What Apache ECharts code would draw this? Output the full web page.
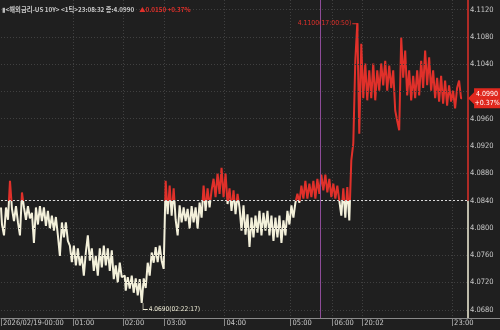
<!DOCTYPE html>
<html><head><meta charset="utf-8">
<script src="https://cdn.jsdelivr.net/npm/echarts@6/dist/echarts.min.js"></script>
<style>html,body{margin:0;padding:0;background:#1f1f1f}#c{width:500px;height:330px}</style>
</head><body><div id="c"></div>
<script>
// tick labels on the time (tick-index) axis
const tickIdx = [0, 36, 61, 82, 112, 145, 166, 181, 226];
const tickLabels = ['2026/02/19-00:00', '01:00', '02:00', '03:00', '04:00', '05:00', '06:00', '20:02', '23:00'];
// y-axis labels
const yTicks = [4.0680, 4.0720, 4.0760, 4.0800, 4.0840, 4.0880, 4.0920, 4.0960, 4.1000, 4.1040, 4.1080, 4.1120];
const baseValue = 4.0840;
const closeValue = 4.0990;
const changeText = '▲0.0150 +0.37%';
const pctText = '+0.37%';
const maxTime = '17:00:50';
const minTime = '02:22:17';
const catCount = 251;
const dividerIdx = 159.5;
const endIdx = 234;
// tick values
const values = [
4.0830,4.0805,4.0789,4.0830,4.0812,4.0869,4.0828,4.0810,4.0832,4.0808,
4.0789,4.0852,4.0830,4.0812,4.0832,4.0814,4.0822,4.0778,4.0830,4.0805,
4.0832,4.0810,4.0830,4.0803,4.0825,4.0799,4.0818,4.0796,4.0816,4.0789,
4.0759,4.0808,4.0786,4.0808,4.0781,4.0774,4.0750,4.0774,4.0745,4.0770,
4.0745,4.0759,4.0730,4.0764,4.0789,4.0752,4.0770,4.0737,4.0759,4.0730,
4.0770,4.0742,4.0774,4.0745,4.0770,4.0737,4.0767,4.0725,4.0745,4.0720,
4.0749,4.0728,4.0730,4.0708,4.0728,4.0711,4.0730,4.0705,4.0726,4.0701,
4.0725,4.0690,4.0726,4.0712,4.0749,4.0730,4.0764,4.0749,4.0772,4.0750,
4.0774,4.0752,4.0740,4.0869,4.0820,4.0862,4.0818,4.0858,4.0812,4.0789,
4.0833,4.0808,4.0830,4.0810,4.0828,4.0799,4.0832,4.0808,4.0830,4.0799,
4.0837,4.0815,4.0862,4.0825,4.0858,4.0830,4.0855,4.0872,4.0845,4.0880,
4.0850,4.0888,4.0845,4.0880,4.0835,4.0858,4.0825,4.0855,4.0820,4.0850,
4.0830,4.0796,4.0833,4.0790,4.0820,4.0772,4.0815,4.0786,4.0818,4.0793,
4.0825,4.0789,4.0822,4.0796,4.0825,4.0789,4.0818,4.0781,4.0815,4.0786,
4.0818,4.0778,4.0811,4.0789,4.0825,4.0805,4.0833,4.0815,4.0837,4.0850,
4.0837,4.0862,4.0843,4.0869,4.0843,4.0865,4.0845,4.0869,4.0843,4.0872,
4.0850,4.0878,4.0855,4.0878,4.0852,4.0872,4.0845,4.0865,4.0843,4.0862,
4.0840,4.0818,4.0858,4.0815,4.0860,4.0811,4.0899,4.0924,4.1045,4.1100,
4.0938,4.1070,4.0990,4.1041,4.0987,4.1031,4.0990,4.1041,4.0987,4.1031,
4.1001,4.1041,4.1009,4.1045,4.1001,4.1038,4.1005,4.1031,4.0972,4.0957,
4.0943,4.1079,4.1020,4.1060,4.0994,4.1031,4.0987,4.1023,4.0990,4.1031,
4.0994,4.1045,4.1005,4.1060,4.1009,4.1050,4.1001,4.1031,4.0990,4.1020,
4.0985,4.1023,4.0982,4.1016,4.0979,4.1009,4.0985,4.1001,4.0975,4.1005,
4.1016,4.0990
];

const RED = '#e0302a', CREAM = '#f3f0da', GRID = '#404040', TXT = '#c8c8c8';
const FONT = "'Liberation Sans Narrow','DejaVu Sans Condensed','Liberation Sans',sans-serif";
const KFONT = "'Noto Sans CJK KR','Liberation Sans',sans-serif";

const cats = Array.from({length: catCount}, (_, i) => String(i));
const showTick = (i) => tickIdx.indexOf(i) >= 0;
const yMin = 4.0668, yMax = 4.1134;

let maxI = 0, minI = 0;
values.forEach((v, i) => { if (v > values[maxI]) maxI = i; if (v < values[minI]) minI = i; });

const gridLines = yTicks.map(v => [{coord: [0, v], lineStyle: {color: GRID, type: [1, 2], width: 1}}, {coord: [endIdx, v]}]);

const chart = echarts.init(document.getElementById('c'), null, {renderer: 'canvas'});
chart.setOption({
  backgroundColor: '#1f1f1f',
  animation: false,
  title: {
    left: 2, top: 1, padding: 0,
    text: '{i|▮}{a|<해외금리-US 10Y> <1틱>23:08:32 종:' + closeValue.toFixed(4) + '} {r|' + changeText + '}',
    textStyle: {
      rich: {
        i: {color: '#bbbbbb', fontSize: 6.5, fontFamily: 'DejaVu Sans'},
        a: {color: TXT, fontSize: 6.3, fontFamily: KFONT},
        r: {color: RED, fontSize: 6.3, fontFamily: KFONT}
      }
    }
  },
  grid: {left: 0, right: 0, top: 0, bottom: 12, containLabel: false},
  visualMap: {
    show: false, type: 'piecewise', seriesIndex: 0, dimension: 1,
    pieces: [{gt: baseValue, lte: 5, color: RED}, {gt: 3, lte: baseValue, color: CREAM}]
  },
  xAxis: {
    type: 'category', data: cats, boundaryGap: false,
    axisLine: {lineStyle: {color: '#8a8a8a', width: 1}},
    axisTick: {show: true, interval: (i) => showTick(i), length: 8, lineStyle: {color: '#8a8a8a'}},
    axisLabel: {
      interval: (i) => showTick(i), align: 'left', margin: 1, padding: [0, 0, 0, 2],
      color: TXT, fontSize: 7.5, fontFamily: FONT,
      formatter: (v, i) => { const k = tickIdx.indexOf(Number(v)); return k >= 0 ? tickLabels[k] : ''; }
    },
    splitLine: {show: true, interval: (i) => showTick(i) && i > 0, lineStyle: {color: GRID, type: [1, 2]}}
  },
  yAxis: {
    type: 'value', position: 'right', offset: -32, min: yMin, max: yMax, interval: 0.0004,
    axisLine: {show: false}, axisTick: {show: false}, splitLine: {show: false},
    axisLabel: {
      margin: 2, color: TXT, fontSize: 7.5, fontFamily: FONT,
      formatter: (v) => (Math.round(v * 10000) % 40 === 0 && Math.abs(v - closeValue) > 0.0015) ? v.toFixed(4) : ''
    }
  },
  series: [
    {
      type: 'line', data: values, symbol: 'none', showSymbol: false, step: 'middle',
      lineStyle: {width: 2}, z: 3
    },
    {
      type: 'line', data: [], z: 4,
      markLine: {
        silent: true, symbol: 'none', label: {show: false}, animation: false,
        data: [
          ...gridLines,
          [{coord: [0, baseValue], lineStyle: {color: '#d8d8d8', type: [2, 2], width: 1}}, {coord: [endIdx, baseValue]}],
          [{coord: [dividerIdx, yMax], lineStyle: {color: '#8e4c98', type: 'solid', width: 1}}, {coord: [dividerIdx, yMin]}],
          [{coord: [endIdx, yMax], lineStyle: {color: RED, type: 'solid', width: 1.5}}, {coord: [endIdx, baseValue]}],
          [{coord: [endIdx, baseValue], lineStyle: {color: CREAM, type: 'solid', width: 1.5}}, {coord: [endIdx, yMin]}]
        ]
      },
      markPoint: {
        silent: true, animation: false,
        data: [
          {
            coord: [maxI, values[maxI]],
            symbol: 'path://M0,0H8V8H7V1H0Z', symbolSize: [6, 8], symbolOffset: [-3, 4],
            itemStyle: {color: RED},
            label: {show: true, position: 'left', distance: 1, offset: [0, -4], color: RED, fontSize: 6.8, fontFamily: FONT,
              formatter: values[maxI].toFixed(4) + '(' + maxTime + ')'}
          },
          {
            coord: [minI, values[minI]],
            symbol: 'path://M0,0H1V7H8V8H0Z', symbolSize: [5, 7], symbolOffset: [2.5, 3.5],
            itemStyle: {color: CREAM},
            label: {show: true, position: 'right', distance: 1, offset: [0, 3], color: CREAM, fontSize: 6.5, fontFamily: FONT,
              formatter: values[minI].toFixed(4) + '(' + minTime + ')'}
          },
          {
            coord: [endIdx, closeValue],
            symbol: 'path://M0,10L6,4L6,0L32,0L32,20L6,20L6,16Z', symbolSize: [32, 20], symbolOffset: [16, 0],
            itemStyle: {color: '#e0281e'},
            label: {show: true, position: 'inside', offset: [3, 0], color: '#ffffff', fontSize: 7, lineHeight: 9, fontFamily: FONT,
              formatter: closeValue.toFixed(4) + '\n' + pctText}
          }
        ]
      }
    }
  ]
});
</script></body></html>
